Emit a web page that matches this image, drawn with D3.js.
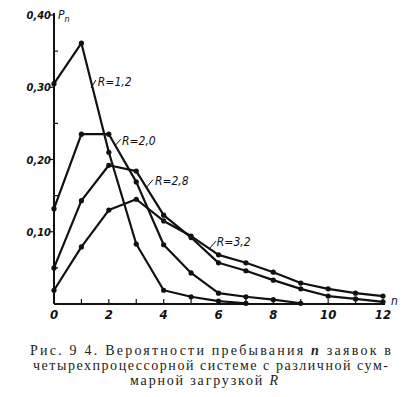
<!DOCTYPE html>
<html>
<head>
<meta charset="utf-8">
<script src="https://cdn.jsdelivr.net/npm/d3@7"></script>
<style>
  body { margin: 0; background: #fff; }
  svg { display: block; }
  .lbl { font-family: "Liberation Sans Narrow", "DejaVu Sans Condensed", "Liberation Sans", sans-serif; font-style: italic; fill: #111; }
  .cap { font-family: "Liberation Serif", "DejaVu Serif", serif; fill: #222; }
</style>
</head>
<body>
<div id="chart"></div>
<script>
// Probabilities p_n of n requests, one series per total load R
const nValues = [0, 1, 2, 3, 4, 5, 6, 7, 8, 9, 10, 11, 12];
const pR12 = [0.305, 0.361, 0.210, 0.083, 0.019, 0.010, 0.004, 0.001];
const pR20 = [0.132, 0.235, 0.235, 0.169, 0.082, 0.043, 0.015, 0.010, 0.006, 0.001];
const pR28 = [0.050, 0.143, 0.192, 0.184, 0.123, 0.092, 0.057, 0.046, 0.033, 0.021, 0.011, 0.007, 0.003];
const pR32 = [0.019, 0.079, 0.130, 0.145, 0.115, 0.094, 0.068, 0.057, 0.044, 0.029, 0.021, 0.015, 0.011];

const seriesNames = ["R=1,2", "R=2,0", "R=2,8", "R=3,2"];
const seriesValues = [pR12, pR20, pR28, pR32];

// Axis ticks
const xTickValues = [0, 1, 2, 3, 4, 5, 6, 7, 8, 9, 10, 11, 12];
const xTickLabels = ["0", "2", "4", "6", "8", "10", "12"];
const yTickValues = [0.10, 0.20, 0.30, 0.40];
const yTickLabels = ["0,10", "0,20", "0,30", "0,40"];
const yMinorTicks = [0.05, 0.15, 0.25, 0.35];

// Curve labels: leader line from curve (n1,p1) to (n2,p2), text at (nt,pt)
const curveLabels = [
    { text: "R=1,2", n1: 1.35, p1: 0.299, n2: 1.53, p2: 0.310, nt: 1.60, pt: 0.302 },
    { text: "R=2,0", n1: 2.22, p1: 0.219, n2: 2.44, p2: 0.228, nt: 2.48, pt: 0.220 },
    { text: "R=2,8", n1: 3.36, p1: 0.161, n2: 3.61, p2: 0.172, nt: 3.68, pt: 0.165 },
    { text: "R=3,2", n1: 5.65, p1: 0.076, n2: 5.91, p2: 0.087, nt: 5.94, pt: 0.080 }
];

const captionLines = [
    ["Рис. 9 4. Вероятности пребывания ", "n", " заявок в"],
    ["четырехпроцессорной системе с различной сум-"],
    ["марной загрузкой ", "R"]
];

const width = 401;
const height = 397;
const ink = "#111";

const svg = d3.select("#chart")
    .append("svg")
    .attr("width", width)
    .attr("height", height);

const x = d3.scaleLinear().domain([0, 12]).range([54, 383]);
const y = d3.scaleLinear().domain([0, 0.4]).range([304, 15]);

// Axes lines
svg.append("line")
    .attr("x1", x(0)).attr("x2", x(12) + 2)
    .attr("y1", y(0)).attr("y2", y(0))
    .attr("stroke", ink).attr("stroke-width", 2);

svg.append("line")
    .attr("x1", x(0)).attr("x2", x(0))
    .attr("y1", y(0)).attr("y2", y(0.4) - 2)
    .attr("stroke", ink).attr("stroke-width", 2);

// x ticks point up from the axis
svg.selectAll(".xtick")
    .data(xTickValues.slice(1))
    .enter()
    .append("line")
    .attr("x1", d => x(d)).attr("x2", d => x(d))
    .attr("y1", y(0)).attr("y2", y(0) - 5)
    .attr("stroke", ink).attr("stroke-width", 1.2);

svg.selectAll(".xlabel")
    .data(xTickLabels)
    .enter()
    .append("text")
    .attr("class", "lbl")
    .attr("x", d => x(+d))
    .attr("y", 319)
    .attr("text-anchor", "middle")
    .attr("font-size", "13px")
    .attr("font-weight", "bold")
    .text(d => d);

// y ticks: labelled ones to the left, minor ones to the right
svg.selectAll(".ytick")
    .data(yTickValues)
    .enter()
    .append("line")
    .attr("x1", x(0) - 4).attr("x2", x(0))
    .attr("y1", d => y(d)).attr("y2", d => y(d))
    .attr("stroke", ink).attr("stroke-width", 1.2);

svg.selectAll(".yminor")
    .data(yMinorTicks)
    .enter()
    .append("line")
    .attr("x1", x(0)).attr("x2", x(0) + 4)
    .attr("y1", d => y(d)).attr("y2", d => y(d))
    .attr("stroke", ink).attr("stroke-width", 1.2);

svg.selectAll(".ylabel")
    .data(yTickValues)
    .enter()
    .append("text")
    .attr("class", "lbl")
    .attr("x", x(0) - 3)
    .attr("y", d => y(d) + 4)
    .attr("text-anchor", "end")
    .attr("font-size", "11px")
    .attr("font-weight", "bold")
    .text((d, i) => yTickLabels[i]);

// Axis titles
const pTitle = svg.append("text")
    .attr("class", "lbl")
    .attr("x", x(0) + 4)
    .attr("y", 19)
    .attr("font-size", "12px")
    .text("P");
pTitle.append("tspan")
    .attr("dy", 3)
    .attr("font-size", "9px")
    .text("n");

svg.append("text")
    .attr("class", "lbl")
    .attr("x", x(12) + 8)
    .attr("y", 305)
    .attr("font-size", "12px")
    .text("n");

// Curves and points
const line = d3.line()
    .x((d, i) => x(nValues[i]))
    .y(d => y(d));

seriesValues.forEach((vals, k) => {
    svg.append("path")
        .datum(vals)
        .attr("d", line)
        .attr("fill", "none")
        .attr("stroke", ink)
        .attr("stroke-width", 2.2)
        .attr("stroke-linejoin", "round");

    svg.selectAll(".pt" + k)
        .data(vals)
        .enter()
        .append("circle")
        .attr("cx", (d, i) => x(nValues[i]))
        .attr("cy", d => y(d))
        .attr("r", 2.6)
        .attr("fill", ink);
});

// Curve labels with leader lines
svg.selectAll(".leader")
    .data(curveLabels)
    .enter()
    .append("line")
    .attr("x1", d => x(d.n1)).attr("y1", d => y(d.p1))
    .attr("x2", d => x(d.n2)).attr("y2", d => y(d.p2))
    .attr("stroke", ink).attr("stroke-width", 1);

svg.selectAll(".clabel")
    .data(curveLabels)
    .enter()
    .append("text")
    .attr("class", "lbl")
    .attr("x", d => x(d.nt))
    .attr("y", d => y(d.pt))
    .attr("font-size", "12px")
    .text(d => d.text);

// Caption
const capLayout = [
    { x: 30, y: 355, len: 361 },
    { x: 33, y: 370, len: 355 },
    { x: 130, y: 385, len: 148 }
];

captionLines.forEach((parts, i) => {
    const t = svg.append("text")
        .attr("class", "cap")
        .attr("x", capLayout[i].x)
        .attr("y", capLayout[i].y)
        .attr("font-size", "14px")
        .attr("textLength", capLayout[i].len)
        .attr("lengthAdjust", "spacing");
    parts.forEach(p => {
        const s = t.append("tspan").text(p);
        if (p === "n" || p === "R") s.attr("font-style", "italic");
        if (p === "n") s.attr("font-weight", "bold");
    });
});
</script>
</body>
</html>
